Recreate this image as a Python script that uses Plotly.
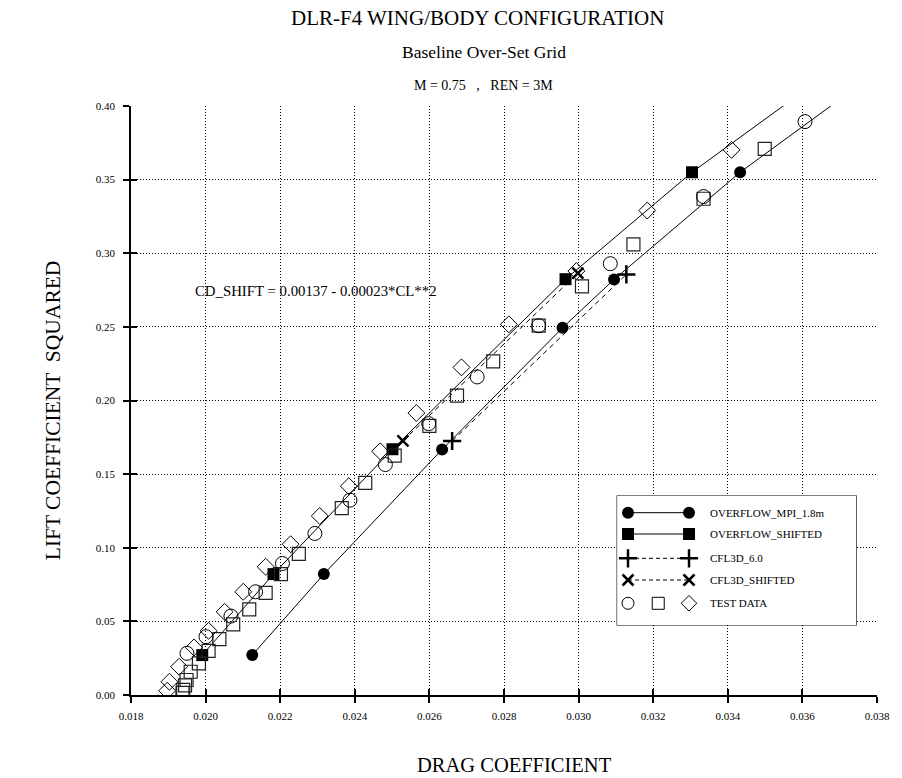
import plotly.graph_objects as go

# ---- data: drag coefficient (CD) vs lift coefficient squared (CL^2) ----
mpi_cd = [0.02125, 0.02317, 0.02634, 0.02957, 0.03095, 0.03433, 0.03784]
mpi_cl2 = [0.0271, 0.0821, 0.1667, 0.2494, 0.2822, 0.3550, 0.4200]

shift_cd = [0.01991, 0.02182, 0.02501, 0.02965, 0.03304, 0.03657]
shift_cl2 = [0.0271, 0.0821, 0.1669, 0.2824, 0.3550, 0.4200]

cfl3d_cd = [0.02661, 0.03128]
cfl3d_cl2 = [0.1725, 0.2856]

cfl3d_shift_cd = [0.02529, 0.02998]
cfl3d_shift_cl2 = [0.1725, 0.2865]

test_circle_cd = [0.01950, 0.02001, 0.02068, 0.02134, 0.02206, 0.02293, 0.02387,
                  0.02482, 0.02598, 0.02728, 0.02893, 0.03085, 0.03335, 0.03607]
test_circle_cl2 = [0.0283, 0.0396, 0.0536, 0.0701, 0.0893, 0.1097, 0.1323,
                   0.1565, 0.1843, 0.2160, 0.2508, 0.2929, 0.3385, 0.3894]

test_square_cd = [0.01938, 0.01940, 0.01945, 0.01949, 0.01960, 0.01982, 0.02008,
                  0.02037, 0.02074, 0.02117, 0.02161, 0.02202, 0.02250, 0.02365,
                  0.02428, 0.02507, 0.02600, 0.02674, 0.02771, 0.02893, 0.03009,
                  0.03147, 0.03335, 0.03499]
test_square_cl2 = [0.0015, 0.0035, 0.0065, 0.0102, 0.0158, 0.0215, 0.0299,
                   0.0380, 0.0480, 0.0581, 0.0694, 0.0821, 0.0959, 0.1269,
                   0.1440, 0.1626, 0.1827, 0.2033, 0.2266, 0.2508, 0.2775,
                   0.3060, 0.3370, 0.3709]

test_diamond_cd = [0.01897, 0.01903, 0.01929, 0.01969, 0.02008, 0.02051, 0.02101,
                   0.02161, 0.02228, 0.02306, 0.02384, 0.02468, 0.02565, 0.02686,
                   0.02813, 0.02994, 0.03184, 0.03410]
test_diamond_cl2 = [0.0029, 0.0090, 0.0192, 0.0323, 0.0436, 0.0565, 0.0701,
                    0.0871, 0.1024, 0.1216, 0.1418, 0.1655, 0.1915, 0.2225,
                    0.2517, 0.2879, 0.3290, 0.3702]

x_ticks = [0.018, 0.020, 0.022, 0.024, 0.026, 0.028, 0.030, 0.032, 0.034, 0.036, 0.038]
y_ticks = [0.00, 0.05, 0.10, 0.15, 0.20, 0.25, 0.30, 0.35, 0.40]

legend_names = ["OVERFLOW_MPI_1.8m", "OVERFLOW_SHIFTED", "CFL3D_6.0",
                "CFL3D_SHIFTED", "TEST DATA"]

SERIF = "Liberation Serif, Times New Roman, serif"
W, H = 902, 778
L, R, T, B = 131, 13, 106, 83
PW, PH = W - L - R, H - T - B


def px_x(p):
    return (p - L) / PW


def px_y(p):
    return (H - B - p) / PH


fig = go.Figure()

# computed curves
fig.add_trace(go.Scatter(x=mpi_cd, y=mpi_cl2, mode="lines+markers",
                         line=dict(color="black", width=1),
                         marker=dict(symbol="circle", size=12, color="black")))
fig.add_trace(go.Scatter(x=shift_cd, y=shift_cl2, mode="lines+markers",
                         line=dict(color="black", width=1),
                         marker=dict(symbol="square", size=12, color="black")))
fig.add_trace(go.Scatter(x=cfl3d_cd, y=cfl3d_cl2, mode="lines+markers",
                         line=dict(color="black", width=1, dash="5px,4px"),
                         marker=dict(symbol="cross-thin", size=13,
                                     line=dict(color="black", width=2.5))))
fig.add_trace(go.Scatter(x=cfl3d_shift_cd, y=cfl3d_shift_cl2, mode="lines+markers",
                         line=dict(color="black", width=1, dash="5px,4px"),
                         marker=dict(symbol="x-thin", size=11,
                                     line=dict(color="black", width=2.5))))

# wind-tunnel test data
fig.add_trace(go.Scatter(x=test_square_cd, y=test_square_cl2, mode="markers",
                         marker=dict(symbol="square-open", size=13,
                                     color="#222", line=dict(width=1.2))))
fig.add_trace(go.Scatter(x=test_circle_cd, y=test_circle_cl2, mode="markers",
                         marker=dict(symbol="circle-open", size=14,
                                     color="black", line=dict(width=1))))
fig.add_trace(go.Scatter(x=test_diamond_cd, y=test_diamond_cl2, mode="markers",
                         marker=dict(symbol="diamond-open", size=13,
                                     color="black", line=dict(width=1))))

# overlay axes that carry the inner half of the tick marks
fig.add_trace(go.Scatter(x=[None], y=[None], xaxis="x2", yaxis="y2",
                         mode="markers", hoverinfo="skip"))

# ---- legend panel drawn on its own small axes ----
lx0, lx1, ly0, ly1 = 625, 868, 496, 625
rows = [112.3, 91.0, 66.7, 45.0, 21.7]
sym_a, sym_b, sym_mid, txt_x = 11, 73, 41.7, 92

legend_styles = [
    dict(symbol="circle", size=12, color="black", line=dict(width=0)),
    dict(symbol="square", size=12, color="black", line=dict(width=0)),
    dict(symbol="cross-thin", size=13, color="black", line=dict(color="black", width=2.5)),
    dict(symbol="x-thin", size=11, color="black", line=dict(color="black", width=2.5)),
]
legend_lines = [dict(color="black", width=1), dict(color="black", width=1),
                dict(color="black", width=1, dash="4px,3px"),
                dict(color="black", width=1, dash="4px,3px")]
for i in range(4):
    fig.add_trace(go.Scatter(x=[sym_a, sym_b], y=[rows[i], rows[i]],
                             xaxis="x3", yaxis="y3", mode="lines+markers",
                             line=legend_lines[i], marker=legend_styles[i],
                             hoverinfo="skip"))
fig.add_trace(go.Scatter(x=[sym_a], y=[rows[4]], xaxis="x3", yaxis="y3", mode="markers",
                         marker=dict(symbol="circle-open", size=12, color="black",
                                     line=dict(width=1)), hoverinfo="skip"))
fig.add_trace(go.Scatter(x=[sym_mid], y=[rows[4]], xaxis="x3", yaxis="y3", mode="markers",
                         marker=dict(symbol="square-open", size=12, color="black",
                                     line=dict(width=1)), hoverinfo="skip"))
fig.add_trace(go.Scatter(x=[sym_b], y=[rows[4]], xaxis="x3", yaxis="y3", mode="markers",
                         marker=dict(symbol="diamond-open", size=12, color="black",
                                     line=dict(width=1)), hoverinfo="skip"))

annotations = []
for name, ry in zip(legend_names, rows):
    annotations.append(dict(x=txt_x, y=ry, xref="x3", yref="y3", text=name,
                            showarrow=False, xanchor="left", yanchor="middle",
                            font=dict(family=SERIF, size=11, color="black")))


def page_text(x, y, text, size, **kw):
    return dict(x=px_x(x), y=px_y(y), xref="paper", yref="paper", text=text,
                showarrow=False, xanchor="center", yanchor="middle",
                font=dict(family=SERIF, size=size, color="black"), **kw)


# titles
annotations += [
    page_text(483, 18, "DLR-F4 WING/BODY CONFIGURATION", 21),
    page_text(490, 52, "Baseline Over-Set Grid", 17.5),
    page_text(489, 85, "M = 0.75 &nbsp;&nbsp;, &nbsp;&nbsp;REN = 3M", 14),
    page_text(521, 765, "DRAG COEFFICIENT", 20.5),
    page_text(52, 410, "LIFT COEFFICIENT &nbsp;SQUARED", 21.5, textangle=-90),
    dict(x=0.01965, y=0.2747, xref="x", yref="y", xanchor="left", yanchor="middle",
         text="CD_SHIFT = 0.00137 - 0.00023*CL**2", showarrow=False,
         font=dict(family=SERIF, size=14.8, color="black")),
]

axis_common = dict(showgrid=True, gridcolor="black", griddash="1px,2px", gridwidth=1,
                   zeroline=False, ticks="outside", ticklen=6, tickwidth=2,
                   tickcolor="black", showline=True, linecolor="black", linewidth=1.5,
                   tickfont=dict(family=SERIF, size=11, color="black"))

fig.update_layout(
    width=W, height=H,
    margin=dict(l=L, r=R, t=T, b=B),
    paper_bgcolor="white", plot_bgcolor="white",
    showlegend=False,
    annotations=annotations,
    xaxis=dict(range=[0.018, 0.038], tickvals=x_ticks, tickformat=".3f",
               ticklabelstandoff=4, **axis_common),
    yaxis=dict(range=[0.0, 0.40], tickvals=y_ticks, tickformat=".2f",
               ticklabelstandoff=6, **axis_common),
    xaxis2=dict(overlaying="x", matches="x", side="bottom", ticks="inside",
                tickvals=x_ticks, ticklen=6, tickwidth=2, tickcolor="black",
                showticklabels=False, showgrid=False, zeroline=False, showline=False),
    yaxis2=dict(overlaying="y", matches="y", side="left", ticks="inside",
                tickvals=y_ticks, ticklen=6, tickwidth=2, tickcolor="black",
                showticklabels=False, showgrid=False, zeroline=False, showline=False),
    xaxis3=dict(domain=[px_x(lx0), px_x(lx1)], range=[0, lx1 - lx0], anchor="y3",
                visible=False, fixedrange=True),
    yaxis3=dict(domain=[px_y(ly1), px_y(ly0)], range=[0, ly1 - ly0], anchor="x3",
                visible=False, fixedrange=True),
    shapes=[dict(type="rect", xref="paper", yref="paper",
                 x0=px_x(lx0), x1=px_x(lx1), y0=px_y(ly1), y1=px_y(ly0),
                 line=dict(color="black", width=1.2), fillcolor="white",
                 layer="between")],
)

fig.write_html("out.html")
